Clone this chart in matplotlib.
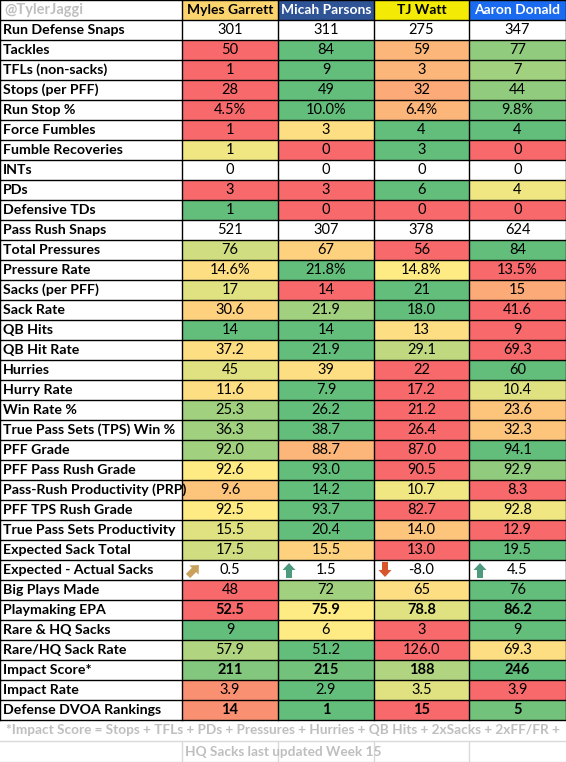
import matplotlib
matplotlib.use("Agg")
import matplotlib.pyplot as plt
from matplotlib.colors import LinearSegmentedColormap
from matplotlib.patches import Rectangle, FancyArrow

players = ["Myles Garrett", "Micah Parsons", "TJ Watt", "Aaron Donald"]

stats = [
    "Run Defense Snaps", "Tackles", "TFLs (non-sacks)", "Stops (per PFF)", "Run Stop %",
    "Force Fumbles", "Fumble Recoveries", "INTs", "PDs", "Defensive TDs",
    "Pass Rush Snaps", "Total Pressures", "Pressure Rate", "Sacks (per PFF)", "Sack Rate",
    "QB Hits", "QB Hit Rate", "Hurries", "Hurry Rate", "Win Rate %",
    "True Pass Sets (TPS) Win %", "PFF Grade", "PFF Pass Rush Grade",
    "Pass-Rush Productivity (PRP)", "PFF TPS Rush Grade", "True Pass Sets Productivity",
    "Expected Sack Total", "Expected - Actual Sacks", "Big Plays Made", "Playmaking EPA",
    "Rare & HQ Sacks", "Rare/HQ Sack Rate", "Impact Score*", "Impact Rate",
    "Defense DVOA Rankings",
]

values = [
    ["301", "311", "275", "347"],
    ["50", "84", "59", "77"],
    ["1", "9", "3", "7"],
    ["28", "49", "32", "44"],
    ["4.5%", "10.0%", "6.4%", "9.8%"],
    ["1", "3", "4", "4"],
    ["1", "0", "3", "0"],
    ["0", "0", "0", "0"],
    ["3", "3", "6", "4"],
    ["1", "0", "0", "0"],
    ["521", "307", "378", "624"],
    ["76", "67", "56", "84"],
    ["14.6%", "21.8%", "14.8%", "13.5%"],
    ["17", "14", "21", "15"],
    ["30.6", "21.9", "18.0", "41.6"],
    ["14", "14", "13", "9"],
    ["37.2", "21.9", "29.1", "69.3"],
    ["45", "39", "22", "60"],
    ["11.6", "7.9", "17.2", "10.4"],
    ["25.3", "26.2", "21.2", "23.6"],
    ["36.3", "38.7", "26.4", "32.3"],
    ["92.0", "88.7", "87.0", "94.1"],
    ["92.6", "93.0", "90.5", "92.9"],
    ["9.6", "14.2", "10.7", "8.3"],
    ["92.5", "93.7", "82.7", "92.8"],
    ["15.5", "20.4", "14.0", "12.9"],
    ["17.5", "15.5", "13.0", "19.5"],
    ["0.5", "1.5", "-8.0", "4.5"],
    ["48", "72", "65", "76"],
    ["52.5", "75.9", "78.8", "86.2"],
    ["9", "6", "3", "9"],
    ["57.9", "51.2", "126.0", "69.3"],
    ["211", "215", "188", "246"],
    ["3.9", "2.9", "3.5", "3.9"],
    ["14", "1", "15", "5"],
]

# colour-scale position: 0 red, 0.5 yellow, 1 green; None = no fill
shade = [
    None,
    [0, 1, .3, .85], [0, 1, .3, .8], [0, 1, .25, .85], [0, 1, .3, .95],
    [0, .45, 1, 1], [.55, 0, 1, 0], None, [0, 0, 1, .55], [1, 0, 0, 0],
    None,
    [.65, .4, 0, 1], [.45, 1, .5, 0], [.6, 0, 1, .25], [.4, .8, 1, 0],
    [1, 1, .45, 0], [.45, 1, .7, 0], [.6, .45, 0, 1], [.45, 1, 0, .6],
    [.8, 1, 0, .35], [.8, 1, 0, .35], [.8, .3, 0, 1], [.5, 1, 0, .85],
    [.35, 1, .55, 0], [.5, 1, 0, .55], [.6, 1, .35, 0], [.65, .4, 0, 1],
    None,
    [0, .8, .45, 1], [0, .5, .6, 1], [1, .5, 0, 1], [.75, 1, 0, .45],
    [.9, .95, .75, 1], [.15, 1, .6, 0], [.15, 1, 0, .95],
]

bold_rows = ["Playmaking EPA", "Impact Score*", "Defense DVOA Rankings"]
trend = ["upright", "up", "down", "up"]

footer = ["*Impact Score = Stops + TFLs + PDs + Pressures + Hurries + QB Hits + 2xSacks + 2xFF/FR +",
          "HQ Sacks last updated Week 15"]

header_bg = ["#FCD46E", "#2F5496", "#F3EA06", "#1B6BF0"]
header_fg = ["black", "white", "black", "white"]

cmap = LinearSegmentedColormap.from_list("xl", ["#F8696B", "#FFEB84", "#63BE7B"])
plt.rcParams["font.family"] = ["Lato", "DejaVu Sans"]

W, H = 566, 762
edges = [0, 182, 278, 374, 469, 566]
rh = 20.0

fig = plt.figure(figsize=(W / 100, H / 100), dpi=100)
ax = fig.add_axes([0, 0, 1, 1])
ax.set_xlim(0, W)
ax.set_ylim(H, 0)
ax.axis("off")

fs = 10.5

# header row
ax.text(4, rh / 2, "@TylerJaggi", color="#BFBFBF", fontsize=fs, fontweight="bold", va="center")
for j, name in enumerate(players):
    x0, x1 = edges[j + 1], edges[j + 2]
    ax.add_patch(Rectangle((x0, 0), x1 - x0, rh, color=header_bg[j], lw=0))
    ax.text((x0 + x1) / 2, rh / 2, name, color=header_fg[j], fontsize=10,
            fontweight="bold", ha="center", va="center")

for i, stat in enumerate(stats):
    y0 = rh * (i + 1)
    yc = y0 + rh / 2
    ax.text(3, yc, stat, fontsize=10.2, fontweight="bold", va="center")
    for j in range(4):
        x0, x1 = edges[j + 1], edges[j + 2]
        if shade[i] is not None:
            ax.add_patch(Rectangle((x0, y0), x1 - x0, rh, color=cmap(float(shade[i][j])), lw=0))
        ax.text((x0 + x1) / 2, yc, values[i][j], fontsize=fs, ha="center", va="center",
                fontweight="bold" if stat in bold_rows else "normal")
        if stat == "Expected - Actual Sacks":
            ax_x = x0 + 11
            t = trend[j]
            if t == "up":
                ax.add_patch(FancyArrow(ax_x, y0 + 18, 0, -8, width=6, head_width=13,
                                        head_length=7, color="#4E9A7C", lw=0))
            elif t == "down":
                ax.add_patch(FancyArrow(ax_x, y0 + 2, 0, 8, width=6, head_width=13,
                                        head_length=7, color="#D8552C", lw=0))
            else:
                ax.add_patch(FancyArrow(ax_x - 5, y0 + 16, 6, -6, width=6, head_width=13,
                                        head_length=7, color="#C9A05C", lw=0))

n_top = rh * (len(stats) + 1)
# grid
for k in range(len(stats) + 2):
    ax.plot([0, W], [k * rh, k * rh], color="black", lw=1)
for x in edges:
    ax.plot([x, x], [0, n_top], color="black", lw=1)

# footer
fh = (H - n_top) / 2
for k, line in enumerate(footer):
    ax.text(W / 2, n_top + fh * (k + 0.5), line, color="#BFBFBF", fontsize=9.8,
            fontweight="bold", ha="center", va="center")
    ax.plot([0, W], [n_top + fh * (k + 1) - 0.5] * 2, color="#D9D9D9", lw=1)
for x in edges[1:-1]:
    ax.plot([x, x], [n_top + fh * 1 + 0.5, H], color="#D9D9D9", lw=1)

fig.savefig("out.png", dpi=100)
